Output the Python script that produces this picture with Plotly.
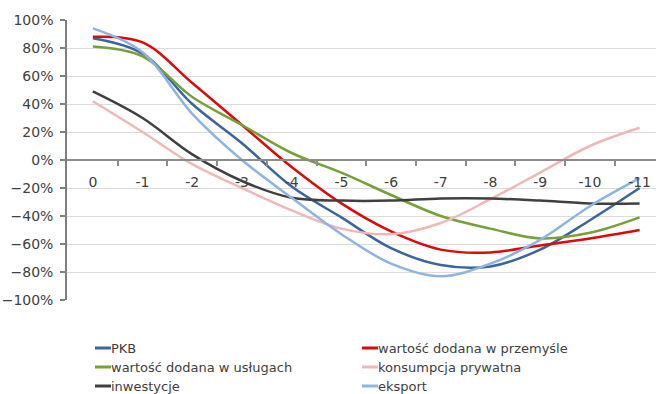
import plotly.graph_objects as go

# Lags (quarters) on the horizontal axis
lags = list(range(12))
lag_labels = ["0", "-1", "-2", "-3", "-4", "-5", "-6", "-7", "-8", "-9", "-10", "-11"]

# Correlation values (%) for each lag
pkb        = [87, 76, 40, 12, -19, -41, -63, -75, -76, -64, -43, -20]
przemysl   = [88, 84, 55, 25, -5, -31, -51, -64, -66, -61, -56, -50]
uslugi     = [81, 74, 45, 25, 5, -9, -25, -40, -49, -56, -52, -41]
konsumpcja = [42, 20, -3, -20, -36, -49, -53, -45, -28, -9, 10, 23]
inwestycje = [49, 30, 4, -15, -27, -29, -29, -27.5, -27.5, -29, -31, -31]
eksport    = [94, 77, 33, 0, -27, -53, -74, -83, -74, -57, -33, -13]

series_names = [
    "PKB",
    "wartość dodana w przemyśle",
    "wartość dodana w usługach",
    "konsumpcja prywatna",
    "inwestycje",
    "eksport",
]
series_values = [pkb, przemysl, uslugi, konsumpcja, inwestycje, eksport]
series_colors = ["#3b64a0", "#dc0a0a", "#77a03a", "#efb8b8", "#404040", "#8db4e2"]

FONT = "DejaVu Sans"
TXT = "#404040"

fig = go.Figure()
for name, vals, col in zip(series_names, series_values, series_colors):
    fig.add_trace(go.Scatter(
        x=lags, y=vals, name=name, mode="lines",
        line=dict(color=col, width=2.5, shape="spline", smoothing=1.0),
        showlegend=False, hoverinfo="skip",
    ))

# Legend drawn as two columns beneath the plot
W, H = 656, 394
ML, MR, MT, MB = 67, 0, 20, 94
pw, ph = W - ML - MR, H - MT - MB


def px2paper(x, y):
    return (x - ML) / pw, (H - MB - y) / ph


col_x = [95, 362]
row_y = [348, 367, 386]
shapes, annots = [], []
for k, (name, col) in enumerate(zip(series_names, series_colors)):
    cx = col_x[k % 2]
    ry = row_y[k // 2]
    x0, y0 = px2paper(cx, ry)
    x1, _ = px2paper(cx + 16, ry)
    shapes.append(dict(type="line", xref="paper", yref="paper",
                       x0=x0, x1=x1, y0=y0, y1=y0,
                       line=dict(color=col, width=3)))
    annots.append(dict(xref="paper", yref="paper", x=x1, y=y0, text=name,
                       showarrow=False, xanchor="left", yanchor="middle",
                       xshift=-2,
                       font=dict(family=FONT, size=13, color=TXT)))

fig.update_layout(
    width=W, height=H,
    margin=dict(l=ML, r=MR, t=MT, b=MB),
    paper_bgcolor="white", plot_bgcolor="white",
    shapes=shapes, annotations=annots,
    showlegend=False,
    xaxis=dict(
        range=[-0.52, 11.33],
        tickmode="array", tickvals=lags, ticktext=lag_labels,
        anchor="free", position=0.5,
        showline=True, linecolor="#8c8c8c", linewidth=1.5,
        showgrid=False, zeroline=False,
        ticks="outside", ticklen=5, tickcolor="rgba(0,0,0,0)",
        ticklabelstandoff=4,
        minor=dict(tickmode="array", tickvals=[i + 0.5 for i in range(11)],
                   ticks="outside", ticklen=5, tickcolor="#8c8c8c",
                   tickwidth=1.5, showgrid=False),
        tickfont=dict(family=FONT, size=14, color=TXT),
    ),
    yaxis=dict(
        range=[-100, 100], dtick=20, ticksuffix="%",
        showgrid=True, gridcolor="#dcdcdc", gridwidth=1.2,
        zeroline=False,
        showline=True, linecolor="#7f7f7f", linewidth=1.5,
        ticks="outside", ticklen=5, tickcolor="#7f7f7f", tickwidth=1.5,
        tickfont=dict(family=FONT, size=14, color=TXT),
        ticklabelstandoff=4,
    ),
)

fig.write_html("out.html")
